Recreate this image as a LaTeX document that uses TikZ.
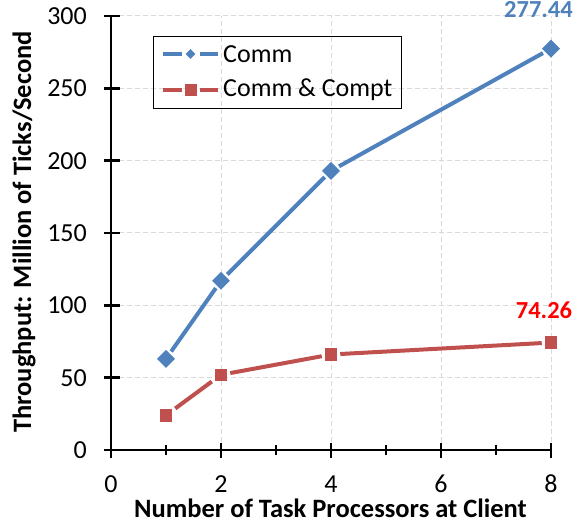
\documentclass[tikz,border=0pt]{standalone}
\usepackage{fontspec}
\setmainfont{Carlito}
\usetikzlibrary{shapes.geometric}
\definecolor{commblue}{HTML}{4F81BD}
\definecolor{comptred}{HTML}{C0504D}
\definecolor{gridgray}{HTML}{D9D9D9}
% plot frame: origin (111,73), 55pt per x unit, 434pt per 300 y units
\newcommand{\PX}[1]{111+55*(#1)}
\newcommand{\PY}[1]{73+1.44667*(#1)}
\tikzset{
  gridline/.style={gridgray, line width=1pt, dash pattern=on 5pt off 3pt},
  axisline/.style={black, line width=2.6pt},
  tickline/.style={black, line width=2.6pt},
  ticklabel/.style={font=\fontsize{26}{26}\selectfont, inner sep=0pt},
  axistitle/.style={font=\fontsize{26.5}{26.5}\selectfont\bfseries, inner sep=0pt},
  commmark/.style={diamond, fill=commblue, minimum size=20pt, inner sep=0pt, outer sep=2.5pt},
  comptmark/.style={rectangle, fill=comptred, minimum size=12.5pt, inner sep=0pt, outer sep=3pt},
  commline/.style={commblue, line width=4pt},
  comptline/.style={comptred, line width=4pt},
  datalabel/.style={font=\fontsize{24.5}{24.5}\selectfont\bfseries, inner sep=0pt},
  legendtext/.style={font=\fontsize{26}{26}\selectfont, anchor=west, inner sep=0pt},
}
\begin{document}
\begin{tikzpicture}[x=1pt,y=1pt]
\useasboundingbox (0,0) rectangle (582,523);
% grid
\foreach \gx in {2,4,6,8} \draw[gridline] ({\PX{\gx}},{\PY{0}}) -- ({\PX{\gx}},{\PY{300}});
\foreach \gy in {50,100,...,300} \draw[gridline] ({\PX{0}},{\PY{\gy}}) -- ({\PX{8}},{\PY{\gy}});
% axes
\coordinate (o) at ({\PX{0}},{\PY{0}});
\coordinate (xend) at ({\PX{8}},{\PY{0}});
\coordinate (yend) at ({\PX{0}},{\PY{300}});
\draw[axisline] (o) -- (xend);
\draw[axisline] (o) -- (yend);
% y ticks and labels
\foreach \gy in {0,50,...,300} {
  \draw[tickline] ({\PX{0}-7},{\PY{\gy}}) -- ({\PX{0}+9},{\PY{\gy}});
  \node[ticklabel, anchor=east] (yl\gy) at ({\PX{0}-24},{\PY{\gy}}) {\gy};
}
% x ticks and labels
\foreach \gx in {0,2,4,6,8} {
  \draw[tickline] ({\PX{\gx}},{\PY{0}+7}) -- ({\PX{\gx}},{\PY{0}-8});
  \node[ticklabel] (xl\gx) at ({\PX{\gx}},39) {\gx};
}
\foreach \gx in {1,3,5,7}
  \draw[tickline] ({\PX{\gx}},{\PY{0}+5}) -- ({\PX{\gx}},{\PY{0}-5});
% axis titles
\node[axistitle] (xtitle) at (330.5,14.5) {Number of Task Processors at Client};
\node[axistitle, rotate=90] (ytitle) at (24,291) {Throughput: Million of Ticks/Second};
% Comm series
\node[commmark] (c1) at ({\PX{1}},{\PY{63}}) {};
\node[commmark] (c2) at ({\PX{2}},{\PY{117}}) {};
\node[commmark] (c4) at ({\PX{4}},{\PY{193}}) {};
\node[commmark] (c8) at ({\PX{8}},{\PY{277.44}}) {};
\draw[commline] (c1) -- (c2);
\draw[commline] (c2) -- (c4);
\draw[commline] (c4) -- (c8);
% Comm & Compt series
\node[comptmark] (p1) at ({\PX{1}},{\PY{24}}) {};
\node[comptmark] (p2) at ({\PX{2}},{\PY{52}}) {};
\node[comptmark] (p4) at ({\PX{4}},{\PY{66}}) {};
\node[comptmark] (p8) at ({\PX{8}},{\PY{74.26}}) {};
\draw[comptline] (p1) -- (p2);
\draw[comptline] (p2) -- (p4);
\draw[comptline] (p4) -- (p8);
% value labels
\node[datalabel, text=commblue] (v1) at (538.5,513) {277.44};
\node[datalabel, text=red] (v2) at (544,213) {74.26};
% legend
\node[draw=black, line width=1pt, minimum width=248pt, minimum height=72pt, anchor=north west, inner sep=0pt] (legend) at (153,487) {};
\coordinate (la1) at (163,469);
\coordinate (lb1) at (218,469);
\coordinate (la2) at (163,433);
\coordinate (lb2) at (218,433);
\node[commmark, minimum size=12pt, outer sep=3pt] (lm1) at (190.5,469) {};
\node[comptmark, minimum size=12pt] (lm2) at (190.5,433) {};
\draw[commline] (la1) -- (lm1);
\draw[commline] (lm1) -- (lb1);
\draw[comptline] (la2) -- (lm2);
\draw[comptline] (lm2) -- (lb2);
\node[legendtext] (lt1) at (223,469) {Comm};
\node[legendtext] (lt2) at (223,433) {Comm \& Compt};
\end{tikzpicture}
\end{document}
